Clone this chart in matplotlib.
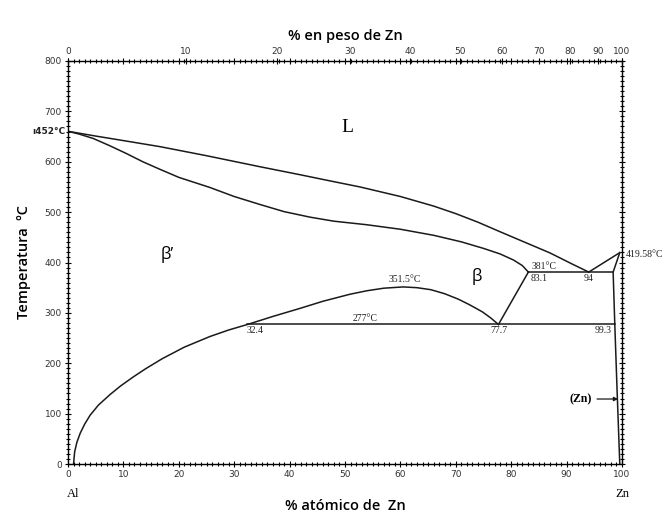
import matplotlib.pyplot as plt
import numpy as np

# Al-Zn diagram, values (x = bottom scale, T in C)
liq_x = [0, 5, 10, 16.6, 25, 34.7, 42, 47.3, 52.7, 60, 66, 70, 74, 78, 81, 84, 87, 89, 91, 92.5, 94]
liq_t = [660.45, 651, 642, 630, 612, 590, 574, 562, 550, 531, 512, 497, 480, 461, 447, 433, 419, 408, 397, 389, 381]

sol_x = [0, 2, 4.6, 7.5, 10.6, 13.5, 16.6, 20, 25.6, 30, 34.7, 39, 43.7, 48, 53.9, 60, 66,
         71, 75, 78, 80.4, 82, 83.1]
sol_t = [660.45, 655, 646, 632, 616, 600, 585, 569, 549, 531, 515, 501, 490, 482, 475, 466, 454,
         441, 428, 417, 405, 394, 381]

gap_x = [1, 1.2, 1.6, 2.2, 3, 4, 5.5, 7.6, 9.5, 11.8, 14, 17, 21, 25.6, 29, 32.4, 37, 41.9,
         46, 50.9, 54, 57, 60.5, 63, 65.5, 68, 70.5, 72.5, 74.8, 76.3, 77.7]
gap_t = [0, 24, 43, 61, 79, 97, 117, 138, 155, 173, 189, 209, 232, 253, 266, 277, 293, 309,
         323, 337, 344, 349, 351.5, 350, 346, 338, 327, 316, 302, 290, 277]

zn_liq_x = [94, 99.6]
zn_liq_t = [381, 419.58]
zn_sol_x = [99.6, 98.4, 98.7, 99.1, 99.4, 99.6]
zn_sol_t = [419.58, 381, 277, 150, 60, 0]

eutectoid_x = [32.4, 98.7]      # 277 C
monotectoid_x = [83.1, 98.4]    # 381 C
beta_x = [77.7, 83.1]
beta_t = [277, 381]

wt_ticks = [0, 10, 20, 30, 40, 50, 60, 70, 80, 90, 100]


def to_top(w):
    w = np.asarray(w, dtype=float)
    a = (w / 65.38) / (w / 65.38 + (100 - w) / 26.98)
    return a * 100


def to_bottom(a):
    a = np.asarray(a, dtype=float)
    w = a * 65.38 / (a * 65.38 + (100 - a) * 26.98)
    return w * 100


fig = plt.figure(figsize=(6.67, 5.13), dpi=100)
ax = fig.add_axes([68 / 667, 49 / 513, 554 / 667, 403 / 513])

lw = 1.1
k = '#1a1a1a'
ax.plot(liq_x, liq_t, color=k, lw=lw)
ax.plot(sol_x, sol_t, color=k, lw=lw)
ax.plot(gap_x, gap_t, color=k, lw=lw)
ax.plot(zn_liq_x, zn_liq_t, color=k, lw=lw)
ax.plot(zn_sol_x, zn_sol_t, color=k, lw=lw)
ax.plot(eutectoid_x, [277, 277], color=k, lw=lw)
ax.plot(monotectoid_x, [381, 381], color=k, lw=lw)
ax.plot(beta_x, beta_t, color=k, lw=lw)

ax.set_xlim(0, 100)
ax.set_ylim(0, 800)

ax.set_xticks(np.arange(0, 101, 10))
ax.set_xticks(np.arange(0, 101, 1), minor=True)
ax.set_yticks(np.arange(0, 801, 100))
ax.set_yticks(np.arange(0, 801, 10), minor=True)
ax.tick_params(which='both', direction='inout', top=True, right=True,
               labelsize=6.5, labelcolor='#333333', pad=2)
ax.tick_params(which='major', length=5, width=0.8)
ax.tick_params(which='minor', length=2.5, width=0.8)
for s in ax.spines.values():
    s.set_linestyle((0, (1, 1)))
    s.set_linewidth(1.0)

top = ax.secondary_xaxis('top', functions=(to_top, to_bottom))
top.set_xticks(wt_ticks)
top.tick_params(direction='inout', length=5, labelsize=6.5, labelcolor='#333333', pad=1)
top.xaxis.set_minor_locator(plt.NullLocator())
top.spines['top'].set_visible(False)

serif = 'Liberation Serif'
small = dict(fontsize=7, family=serif, color='#222222')
ax.text(50.5, 667, 'L', fontsize=14, family=serif, ha='center', va='center')
ax.text(18, 415, 'β’', fontsize=12, family='Open Sans', ha='center', va='center')
ax.text(73.8, 373, 'β', fontsize=12, family='Open Sans', ha='center', va='center')
ax.text(60.8, 357, '351.5°C', ha='center', va='bottom', **small)
ax.text(53.6, 279, '277°C', ha='center', va='bottom', **small)
ax.text(86, 383, '381°C', ha='center', va='bottom', **small)
ax.text(83.5, 378, '83.1', ha='left', va='top', **small)
ax.text(94, 377, '94', ha='center', va='top', **small)
ax.text(77.7, 274, '77.7', ha='center', va='top', **small)
ax.text(96.6, 274, '99.3', ha='center', va='top', **small)
ax.text(33.8, 274, '32.4', ha='center', va='top', **small)
ax.text(100.6, 415, '419.58°C', ha='left', va='center', clip_on=False, **small)
ax.text(-0.5, 660, 'ı452°C', ha='right', va='center', fontsize=6.5,
        fontweight='bold', color='#222222', clip_on=False)
ax.annotate('(Zn)', xy=(99.8, 129), xytext=(94.5, 129), ha='right', va='center',
            fontsize=8.5, family=serif, fontweight='bold',
            arrowprops=dict(arrowstyle='-|>', color=k, lw=0.9, mutation_scale=6))
ax.text(1, -60, 'Al', fontsize=9, family=serif, ha='center', va='center', clip_on=False)
ax.text(100, -60, 'Zn', fontsize=9, family=serif, ha='center', va='center', clip_on=False)

ax.set_xlabel('% atómico de  Zn', fontsize=10.5, family='Open Sans',
              fontweight='semibold', labelpad=14)
top.set_xlabel('% en peso de Zn', fontsize=10.5, family='Open Sans',
               fontweight='semibold', labelpad=5)
ax.set_ylabel('Temperatura  ºC', fontsize=10.5, family='Open Sans',
              fontweight='semibold', labelpad=10)

fig.savefig('out.png', dpi=100)
